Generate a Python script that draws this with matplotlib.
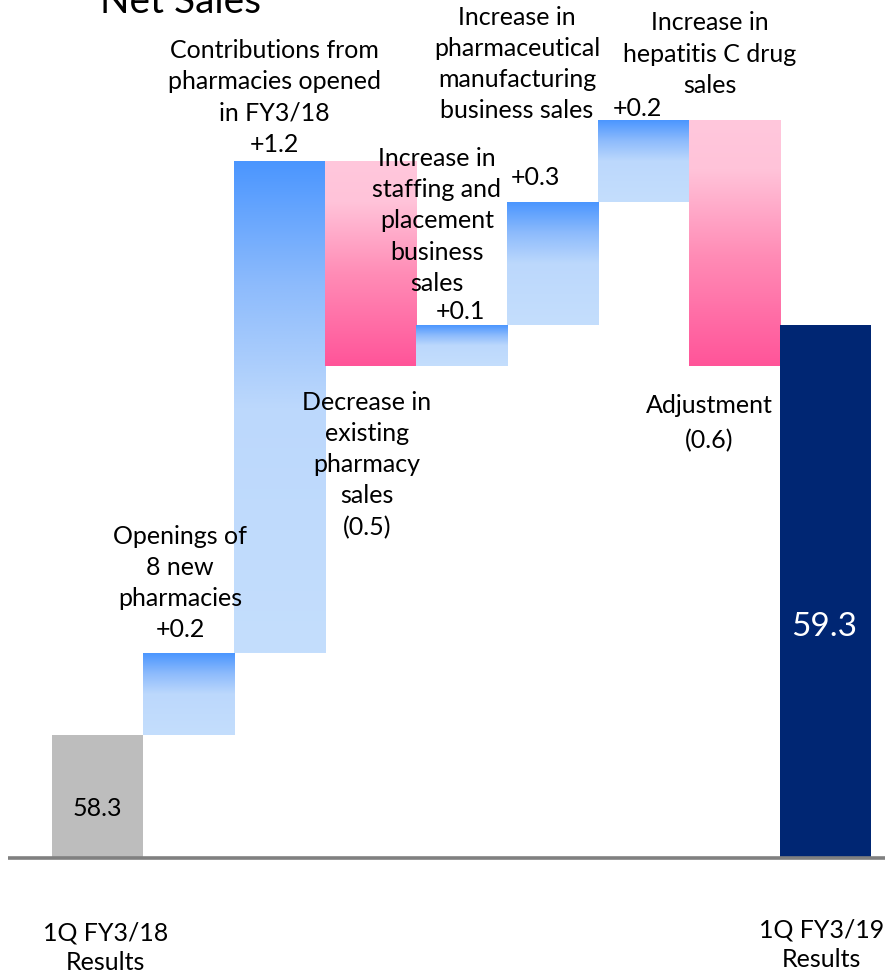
import numpy as np
import matplotlib
matplotlib.use("Agg")
import matplotlib.pyplot as plt
from matplotlib.colors import LinearSegmentedColormap

plt.rcParams["font.family"] = ["Lato", "DejaVu Sans"]

# ---- data (billions of yen) ----
start_label = "1Q FY3/18\nResults"
end_label = "1Q FY3/19\nResults"
start_value = 58.3
end_value = 59.3
step_names = [
    "Openings of\n8 new\npharmacies",
    "Contributions from\npharmacies opened\nin FY3/18",
    "Decrease in\nexisting\npharmacy\nsales",
    "Increase in\nstaffing and\nplacement\nbusiness\nsales",
    "Increase in\npharmaceutical\nmanufacturing\nbusiness sales",
    "Increase in\nhepatitis C drug\nsales",
    "Adjustment",
]
step_values = [0.2, 1.2, -0.5, 0.1, 0.3, 0.2, -0.6]
step_texts = ["+0.2", "+1.2", "(0.5)", "+0.1", "+0.3", "+0.2", "(0.6)"]

AXIS_FLOOR = 58.0

fig = plt.figure(figsize=(8.85, 9.72), dpi=100)
ax = fig.add_axes([0, 0, 1, 1])

blue_cmap = LinearSegmentedColormap.from_list(
    "up", [(0.0, "#c4defd"), (0.5, "#bcd8fc"), (0.75, "#8dbbfc"), (1.0, "#4b96ff")])
pink_cmap = LinearSegmentedColormap.from_list(
    "down", [(0.0, "#ff5499"), (0.45, "#ff8cb6"), (0.8, "#ffc3d9"), (1.0, "#ffc7dc")])
grad = np.linspace(0, 1, 256).reshape(-1, 1)


def gradient_bar(x, bottom, height, cmap):
    bars = ax.bar(x, height, bottom=bottom, width=1.0, color="none",
                  edgecolor="none", zorder=2)
    x0 = x - 0.5
    im = ax.imshow(grad, cmap=cmap, origin="lower", aspect="auto",
                   extent=[x0, x0 + 1.0, bottom, bottom + height],
                   interpolation="bilinear", zorder=2)
    im.set_clip_path(bars[0])


# starting total
ax.bar(0, start_value - AXIS_FLOOR, bottom=AXIS_FLOOR, width=1.0,
       color="#bdbdbd", zorder=2)

# step bars
level = start_value
for i, v in enumerate(step_values):
    x = i + 1
    if v >= 0:
        gradient_bar(x, level, v, blue_cmap)
    else:
        gradient_bar(x, level + v, -v, pink_cmap)
    level += v

# ending total
ax.bar(8, end_value - AXIS_FLOOR, bottom=AXIS_FLOOR, width=1.0,
       color="#002673", zorder=2)

ax.set_xlim(-1.071, 8.654)
ax.set_ylim(57.722, 60.093)
ax.axis("off")

ax.plot([-0.98, 8.66], [AXIS_FLOOR, AXIS_FLOOR], color="#808080", lw=2.6,
        zorder=3, solid_capstyle="butt")

fs = 18
ls = 1.43
txt = dict(ha="center", va="center", color="black", fontsize=fs,
           linespacing=ls, zorder=4)

# title (runs off the top edge)
fig.text(0.113, 0.9866, "Net Sales", fontsize=28, ha="left", va="baseline")

# totals
ax.text(0, 58.122, f"{start_value:.1f}", **txt)
ax.text(7.99, 58.563, f"{end_value:.1f}", ha="center", va="center",
        color="white", fontsize=24, zorder=4)
ax.text(0.09, 57.782, start_label, ha="center", va="center", fontsize=fs,
        linespacing=1.33)
ax.text(7.96, 57.788, end_label, ha="center", va="center", fontsize=fs,
        linespacing=1.33)

# step annotations: label block centre, value centre
label_pos = [
    (0.91, 58.671),
    (1.94, 59.855),
    (2.96, 58.959),
    (3.73, 59.554),
    (4.61, 59.937),
    (6.73, 59.961),
    (6.72, 59.105),
]
value_pos = [
    None,
    None,
    None,
    (3.99, 59.334),
    (4.81, 59.661),
    (5.93, 59.829),
    (6.72, 59.017),
]
for name, vt, lp, vp in zip(step_names, step_texts, label_pos, value_pos):
    if vp is None:
        ax.text(lp[0], lp[1], name + "\n" + vt, **txt)
    else:
        ax.text(lp[0], lp[1], name, **txt)
        ax.text(vp[0], vp[1], vt, **txt)

fig.savefig("out.png", dpi=100)
